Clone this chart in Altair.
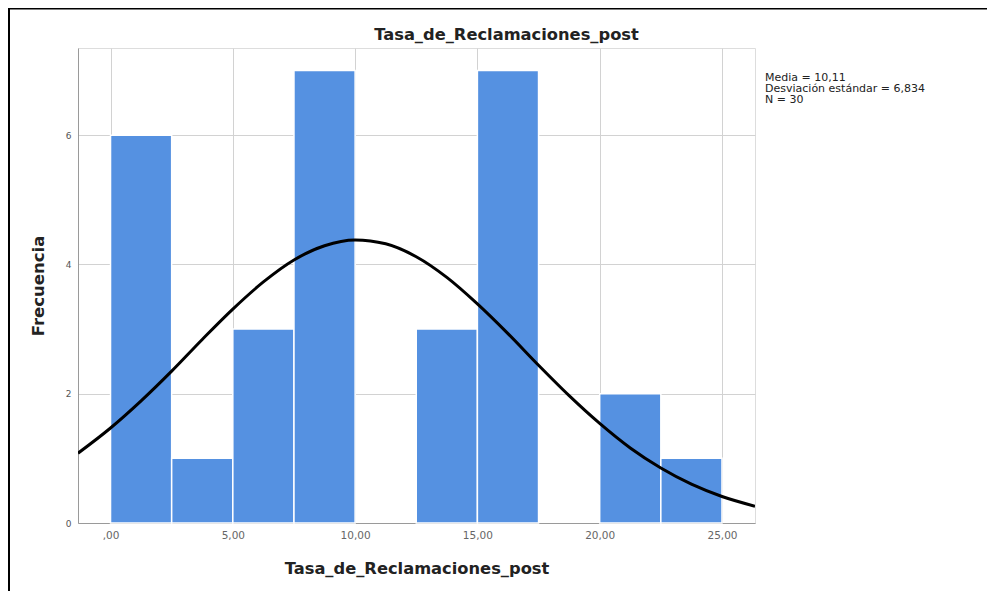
import altair as alt
import pandas as pd

# ---- data ----
bin_start = [0.0, 2.5, 5.0, 7.5, 10.0, 12.5, 15.0, 17.5, 20.0, 22.5]
bin_end = [2.5, 5.0, 7.5, 10.0, 12.5, 15.0, 17.5, 20.0, 22.5, 25.0]
counts = [6, 1, 3, 7, 0, 3, 7, 0, 2, 1]

# normal curve
curve_x = [-1.33, 0.0, 1.25, 2.5, 3.75, 5.0, 6.25, 7.5, 8.75, 10.0, 11.25,
           12.5, 13.75, 15.0, 16.25, 17.5, 18.75, 20.0, 21.25, 22.5, 23.75,
           25.0, 26.35]
curve_y = [1.08, 1.47, 1.89, 2.35, 2.84, 3.31, 3.73, 4.07, 4.29, 4.38, 4.32,
           4.12, 3.80, 3.39, 2.93, 2.44, 1.97, 1.54, 1.16, 0.85, 0.60,
           0.41, 0.26]

x_ticks = [0, 5, 10, 15, 20, 25]
y_ticks = [0, 2, 4, 6]
stats_lines = ["Media = 10,11", "Desviación estándar = 6,834", "N = 30"]

title_text = "Tasa_de_Reclamaciones_post"
x_title = "Tasa_de_Reclamaciones_post"
y_title = "Frecuencia"

W, H = 677, 475
PAD_L, PAD_T, PAD_R, PAD_B = 70, 40, 232, 68
FONT = "DejaVu Sans"

bars_df = pd.DataFrame({"start": bin_start, "end": bin_end, "count": counts})
curve_df = pd.DataFrame({"x": curve_x, "y": curve_y})
one_df = pd.DataFrame({"a": [0]})

xscale = alt.Scale(domain=[-1.33, 26.35], nice=False, zero=False)
yscale = alt.Scale(domain=[0, 7.35], nice=False)

x_axis = alt.Axis(
    values=x_ticks, title=x_title, grid=True, gridColor="#d2d2d2",
    ticks=False, domainColor="#9a9a9a", labelColor="#666666",
    labelFontSize=10.5, labelFont=FONT, labelPadding=7,
    labelExpr="datum.value == 0 ? ',00' : replace(format(datum.value, '.2f'), '.', ',')",
    titleFont=FONT, titleFontSize=16.3, titleFontWeight="bold",
    titleColor="#222222", titlePadding=20,
)
y_axis = alt.Axis(
    values=y_ticks, format="d", title=y_title, grid=True, gridColor="#d2d2d2",
    ticks=False, domainColor="#9a9a9a", labelColor="#555555",
    labelFontSize=9, labelFont=FONT, labelPadding=7,
    titleFont=FONT, titleFontSize=16.5, titleFontWeight="bold",
    titleColor="#222222", titlePadding=19,
)

bars = alt.Chart(bars_df).transform_filter("datum.count > 0").mark_rect(
    color="#5591E1", stroke="white", strokeWidth=1.5
).encode(
    x=alt.X("start:Q", scale=xscale, axis=x_axis),
    x2="end:Q",
    y=alt.Y("count:Q", scale=yscale, axis=y_axis),
    y2=alt.datum(0),
)

curve = alt.Chart(curve_df).mark_line(
    color="black", strokeWidth=3, interpolate="monotone", clip=True
).encode(
    x=alt.X("x:Q", scale=xscale),
    y=alt.Y("y:Q", scale=yscale),
)

stats = alt.Chart(one_df).mark_text(
    text=stats_lines, align="left", baseline="alphabetic", font=FONT,
    fontSize=11, lineHeight=11.2, color="#222222"
).encode(x=alt.value(W + 10), y=alt.value(33))

title = alt.Chart(one_df).mark_text(
    text=title_text, align="center", baseline="alphabetic", font=FONT,
    fontSize=16.3, fontWeight="bold", color="#222222"
).encode(x=alt.value(428.5), y=alt.value(-8))

# outer frame of the screenshot (top and left edges)
frame_top = alt.Chart(one_df).mark_rule(
    color="black", strokeWidth=2
).encode(x=alt.value(-PAD_L), x2=alt.value(W + PAD_R),
         y=alt.value(-PAD_T + 0.5))
frame_left = alt.Chart(one_df).mark_rule(
    color="black", strokeWidth=2
).encode(x=alt.value(-PAD_L + 1), y=alt.value(-PAD_T),
         y2=alt.value(H + PAD_B))

chart = alt.layer(bars, curve, stats, title, frame_top, frame_left).properties(
    width=W, height=H,
    padding={"left": PAD_L, "top": PAD_T, "right": PAD_R, "bottom": PAD_B},
    autosize=alt.AutoSizeParams(type="none"),
).configure_view(stroke=None).configure(background="white")

chart.save("out.html", embed_options={"renderer": "svg", "actions": False})
